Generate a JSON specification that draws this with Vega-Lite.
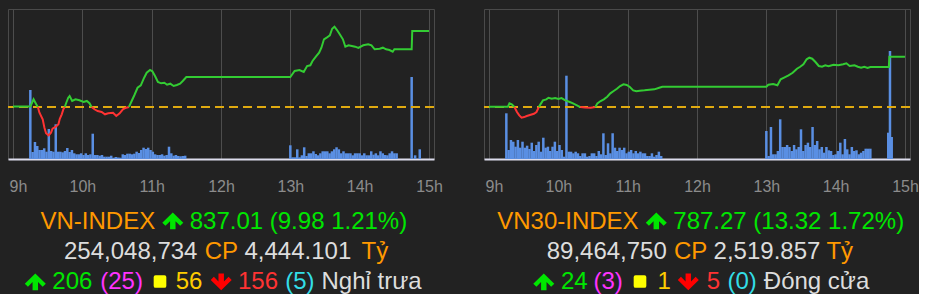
{
"$schema": "https://vega.github.io/schema/vega-lite/v6.json",
"background": "#222222",
"padding": {"left": 6, "top": 8, "right": 0, "bottom": 0},
"autosize": {"type": "pad"},
"bounds": "flush",
"columns": 2,
"spacing": {"row": 40, "column": 50},
"resolve": {"scale": {"color": "independent", "shape": "independent"}},
"config": {"view": {"stroke": "#4a4a4a"}},
"datasets": {
"lineL": [
{"t":0,"v":827.1,"seg":1,"dir":"up"},{"t":15,"v":827.1,"seg":1,"dir":"up"},{"t":17.8,"v":828.04,"seg":1,"dir":"up"},{"t":20.1,"v":827.38,"seg":1,"dir":"up"},{"t":21.5,"v":827.03,"seg":1,"dir":"up"},
{"t":21.5,"v":827.03,"seg":2,"dir":"down"},{"t":22.9,"v":826.28,"seg":2,"dir":"down"},{"t":25.7,"v":825.41,"seg":2,"dir":"down"},{"t":27.2,"v":824.31,"seg":2,"dir":"down"},{"t":28.6,"v":823.58,"seg":2,"dir":"down"},{"t":30.8,"v":823.31,"seg":2,"dir":"down"},{"t":32.9,"v":823.66,"seg":2,"dir":"down"},{"t":34.2,"v":824.18,"seg":2,"dir":"down"},{"t":37.1,"v":824.44,"seg":2,"dir":"down"},{"t":39.3,"v":824.76,"seg":2,"dir":"down"},{"t":40.5,"v":825.49,"seg":2,"dir":"down"},{"t":42.2,"v":826.07,"seg":2,"dir":"down"},{"t":43.6,"v":826.73,"seg":2,"dir":"down"},{"t":44.8,"v":827.03,"seg":2,"dir":"down"},
{"t":44.8,"v":827.03,"seg":3,"dir":"up"},{"t":46.1,"v":827.59,"seg":3,"dir":"up"},{"t":47.8,"v":828.25,"seg":3,"dir":"up"},{"t":49,"v":828.47,"seg":3,"dir":"up"},{"t":51.2,"v":827.82,"seg":3,"dir":"up"},{"t":54.1,"v":828.04,"seg":3,"dir":"up"},{"t":57.5,"v":827.91,"seg":3,"dir":"up"},{"t":61.1,"v":827.69,"seg":3,"dir":"up"},{"t":63.9,"v":827.82,"seg":3,"dir":"up"},{"t":66.2,"v":827.52,"seg":3,"dir":"up"},{"t":68,"v":827.03,"seg":3,"dir":"up"},
{"t":68,"v":827.03,"seg":4,"dir":"down"},{"t":70.5,"v":826.73,"seg":4,"dir":"down"},{"t":73.3,"v":826.5,"seg":4,"dir":"down"},{"t":76.7,"v":826.37,"seg":4,"dir":"down"},{"t":79.6,"v":826.07,"seg":4,"dir":"down"},{"t":82.4,"v":826.2,"seg":4,"dir":"down"},{"t":86.6,"v":826.28,"seg":4,"dir":"down"},{"t":89.4,"v":825.85,"seg":4,"dir":"down"},{"t":92.3,"v":826.2,"seg":4,"dir":"down"},{"t":95.1,"v":826.73,"seg":4,"dir":"down"},{"t":97.9,"v":826.94,"seg":4,"dir":"down"},{"t":100.3,"v":827.03,"seg":4,"dir":"down"},
{"t":100.3,"v":827.03,"seg":5,"dir":"up"},{"t":102.7,"v":827.82,"seg":5,"dir":"up"},{"t":105,"v":828.57,"seg":5,"dir":"up"},{"t":107.8,"v":829.56,"seg":5,"dir":"up"},{"t":110.6,"v":829.88,"seg":5,"dir":"up"},{"t":113.5,"v":830.88,"seg":5,"dir":"up"},{"t":115.7,"v":831.53,"seg":5,"dir":"up"},{"t":118.6,"v":831.89,"seg":5,"dir":"up"},{"t":120.6,"v":831.72,"seg":5,"dir":"up"},{"t":122.9,"v":831.1,"seg":5,"dir":"up"},{"t":125.4,"v":830.31,"seg":5,"dir":"up"},{"t":128.2,"v":830.14,"seg":5,"dir":"up"},{"t":131,"v":830.22,"seg":5,"dir":"up"},{"t":133.3,"v":829.96,"seg":5,"dir":"up"},{"t":136.1,"v":830.09,"seg":5,"dir":"up"},{"t":139,"v":829.79,"seg":5,"dir":"up"},{"t":141.8,"v":829.92,"seg":5,"dir":"up"},{"t":144.6,"v":830.09,"seg":5,"dir":"up"},{"t":146.9,"v":830.44,"seg":5,"dir":"up"},{"t":150,"v":830.97,"seg":5,"dir":"up"},{"t":240,"v":830.97,"seg":5,"dir":"up"},{"t":243.7,"v":831.76,"seg":5,"dir":"up"},{"t":247.9,"v":831.89,"seg":5,"dir":"up"},{"t":251.6,"v":831.63,"seg":5,"dir":"up"},{"t":254.5,"v":832.41,"seg":5,"dir":"up"},{"t":257.3,"v":832.51,"seg":5,"dir":"up"},{"t":259.2,"v":833.07,"seg":5,"dir":"up"},{"t":262.1,"v":833.63,"seg":5,"dir":"up"},{"t":264.9,"v":834.16,"seg":5,"dir":"up"},{"t":266.9,"v":834.82,"seg":5,"dir":"up"},{"t":269.1,"v":835.92,"seg":5,"dir":"up"},{"t":271.4,"v":836.13,"seg":5,"dir":"up"},{"t":274.2,"v":836.45,"seg":5,"dir":"up"},{"t":276.2,"v":837.31,"seg":5,"dir":"up"},{"t":278.2,"v":837.57,"seg":5,"dir":"up"},{"t":280.4,"v":837.14,"seg":5,"dir":"up"},{"t":283.3,"v":836.45,"seg":5,"dir":"up"},{"t":285.5,"v":835.92,"seg":5,"dir":"up"},{"t":287.6,"v":834.95,"seg":5,"dir":"up"},{"t":290.4,"v":835.13,"seg":5,"dir":"up"},{"t":293.2,"v":835.04,"seg":5,"dir":"up"},{"t":296.1,"v":834.95,"seg":5,"dir":"up"},{"t":298.9,"v":834.78,"seg":5,"dir":"up"},{"t":303.1,"v":835.13,"seg":5,"dir":"up"},{"t":307.4,"v":835.26,"seg":5,"dir":"up"},{"t":310.2,"v":835.13,"seg":5,"dir":"up"},{"t":313,"v":834.61,"seg":5,"dir":"up"},{"t":317.3,"v":834.69,"seg":5,"dir":"up"},{"t":320.1,"v":834.82,"seg":5,"dir":"up"},{"t":322.9,"v":834.61,"seg":5,"dir":"up"},{"t":325.8,"v":834.51,"seg":5,"dir":"up"},{"t":328.6,"v":834.29,"seg":5,"dir":"up"},{"t":330,"v":834.61,"seg":5,"dir":"up"},{"t":345,"v":834.61,"seg":5,"dir":"up"},{"t":345.5,"v":837.01,"seg":5,"dir":"up"},{"t":360,"v":837.01,"seg":5,"dir":"up"}
],
"lineR": [
{"t":0,"v":774.0,"seg":1,"dir":"up"},{"t":16.3,"v":774.0,"seg":1,"dir":"up"},{"t":17.7,"v":774.93,"seg":1,"dir":"up"},{"t":19.7,"v":774.66,"seg":1,"dir":"up"},{"t":22,"v":773.95,"seg":1,"dir":"up"},
{"t":22,"v":773.95,"seg":2,"dir":"down"},{"t":24.2,"v":772.63,"seg":2,"dir":"down"},{"t":26.2,"v":771.75,"seg":2,"dir":"down"},{"t":28.2,"v":771.12,"seg":2,"dir":"down"},{"t":30.4,"v":771.3,"seg":2,"dir":"down"},{"t":32.7,"v":771.57,"seg":2,"dir":"down"},{"t":36.1,"v":771.91,"seg":2,"dir":"down"},{"t":38.9,"v":772.18,"seg":2,"dir":"down"},{"t":41.1,"v":772.63,"seg":2,"dir":"down"},{"t":43.1,"v":773.95,"seg":2,"dir":"down"},
{"t":43.1,"v":773.95,"seg":3,"dir":"up"},{"t":44.5,"v":774.66,"seg":3,"dir":"up"},{"t":46.7,"v":775.72,"seg":3,"dir":"up"},{"t":49.6,"v":775.99,"seg":3,"dir":"up"},{"t":51.5,"v":776.41,"seg":3,"dir":"up"},{"t":54.3,"v":776.15,"seg":3,"dir":"up"},{"t":57.2,"v":776.33,"seg":3,"dir":"up"},{"t":60,"v":776.07,"seg":3,"dir":"up"},{"t":62.8,"v":776.33,"seg":3,"dir":"up"},{"t":65.7,"v":775.8,"seg":3,"dir":"up"},{"t":69.3,"v":775.35,"seg":3,"dir":"up"},{"t":72.7,"v":774.93,"seg":3,"dir":"up"},{"t":76.1,"v":774.4,"seg":3,"dir":"up"},{"t":79,"v":773.95,"seg":3,"dir":"up"},
{"t":79,"v":773.95,"seg":4,"dir":"down"},{"t":83,"v":773.8,"seg":4,"dir":"down"},{"t":88,"v":773.75,"seg":4,"dir":"down"},{"t":92,"v":773.95,"seg":4,"dir":"down"},
{"t":92,"v":773.95,"seg":5,"dir":"up"},{"t":93.8,"v":774.93,"seg":5,"dir":"up"},{"t":96.6,"v":775.54,"seg":5,"dir":"up"},{"t":99.4,"v":775.99,"seg":5,"dir":"up"},{"t":102.3,"v":776.68,"seg":5,"dir":"up"},{"t":105,"v":777.58,"seg":5,"dir":"up"},{"t":107.9,"v":778.19,"seg":5,"dir":"up"},{"t":110.7,"v":778.8,"seg":5,"dir":"up"},{"t":113.5,"v":779.51,"seg":5,"dir":"up"},{"t":116.4,"v":779.96,"seg":5,"dir":"up"},{"t":119.2,"v":779.78,"seg":5,"dir":"up"},{"t":121.9,"v":779.25,"seg":5,"dir":"up"},{"t":124.8,"v":778.37,"seg":5,"dir":"up"},{"t":127.6,"v":778.11,"seg":5,"dir":"up"},{"t":130.4,"v":778.27,"seg":5,"dir":"up"},{"t":134.6,"v":778.37,"seg":5,"dir":"up"},{"t":138.9,"v":778.53,"seg":5,"dir":"up"},{"t":143.1,"v":778.64,"seg":5,"dir":"up"},{"t":147.3,"v":779.06,"seg":5,"dir":"up"},{"t":150,"v":779.33,"seg":5,"dir":"up"},{"t":240,"v":779.33,"seg":5,"dir":"up"},{"t":241.7,"v":779.86,"seg":5,"dir":"up"},{"t":245.9,"v":780.04,"seg":5,"dir":"up"},{"t":249.6,"v":779.7,"seg":5,"dir":"up"},{"t":252.4,"v":781.29,"seg":5,"dir":"up"},{"t":255.8,"v":781.82,"seg":5,"dir":"up"},{"t":259.2,"v":782.35,"seg":5,"dir":"up"},{"t":262.8,"v":783.03,"seg":5,"dir":"up"},{"t":266.5,"v":784.09,"seg":5,"dir":"up"},{"t":269.3,"v":784.62,"seg":5,"dir":"up"},{"t":272.1,"v":785.26,"seg":5,"dir":"up"},{"t":274.9,"v":786.58,"seg":5,"dir":"up"},{"t":277.2,"v":787.01,"seg":5,"dir":"up"},{"t":279.7,"v":786.74,"seg":5,"dir":"up"},{"t":282.5,"v":785.87,"seg":5,"dir":"up"},{"t":285.4,"v":784.81,"seg":5,"dir":"up"},{"t":288.2,"v":784.62,"seg":5,"dir":"up"},{"t":291,"v":784.99,"seg":5,"dir":"up"},{"t":293.8,"v":784.73,"seg":5,"dir":"up"},{"t":298.1,"v":785.15,"seg":5,"dir":"up"},{"t":302.3,"v":784.99,"seg":5,"dir":"up"},{"t":306.5,"v":785.26,"seg":5,"dir":"up"},{"t":309.3,"v":785.52,"seg":5,"dir":"up"},{"t":312.1,"v":784.81,"seg":5,"dir":"up"},{"t":316.3,"v":784.99,"seg":5,"dir":"up"},{"t":319.2,"v":784.62,"seg":5,"dir":"up"},{"t":322,"v":784.36,"seg":5,"dir":"up"},{"t":324.8,"v":784.62,"seg":5,"dir":"up"},{"t":327.6,"v":784.28,"seg":5,"dir":"up"},{"t":330,"v":784.54,"seg":5,"dir":"up"},{"t":346,"v":784.54,"seg":5,"dir":"up"},{"t":346.5,"v":787.27,"seg":5,"dir":"up"},{"t":360,"v":787.27,"seg":5,"dir":"up"}
],
"volL": [
{"t":15,"v":69},{"t":17,"v":7},{"t":19,"v":17},{"t":21,"v":13},{"t":23,"v":9},{"t":25,"v":9},{"t":27,"v":10.7},{"t":29,"v":7.3},{"t":31,"v":30},{"t":33,"v":8},{"t":35,"v":7.3},{"t":37,"v":34.7},{"t":39,"v":7.3},{"t":41,"v":7.3},{"t":43,"v":6.7},{"t":45,"v":8},{"t":47,"v":11},{"t":49,"v":7},{"t":51,"v":9},{"t":53,"v":5.7},{"t":55,"v":4.7},{"t":57,"v":4.7},{"t":59,"v":5.7},{"t":61,"v":4},{"t":63,"v":5.7},{"t":65,"v":4},{"t":67,"v":4.7},{"t":69,"v":25.3},{"t":71,"v":4},{"t":73,"v":4},{"t":75,"v":3.3},{"t":77,"v":4},{"t":79,"v":2.3},{"t":81,"v":2.3},{"t":83,"v":2.3},{"t":85,"v":3.3},{"t":87,"v":1.3},{"t":89,"v":2},{"t":91,"v":1.5},{"t":93,"v":1.3},{"t":95,"v":4.7},{"t":97,"v":4},{"t":99,"v":5.3},{"t":101,"v":5.3},{"t":103,"v":4.7},{"t":105,"v":5.3},{"t":107,"v":7.3},{"t":109,"v":6},{"t":111,"v":9},{"t":113,"v":11.3},{"t":115,"v":10},{"t":117,"v":11.3},{"t":119,"v":9},{"t":121,"v":7.3},{"t":123,"v":4.7},{"t":125,"v":4},{"t":127,"v":4},{"t":129,"v":4.7},{"t":131,"v":3.3},{"t":133,"v":4},{"t":135,"v":12.3},{"t":137,"v":5.7},{"t":139,"v":3.3},{"t":141,"v":4},{"t":143,"v":3},{"t":145,"v":2.7},{"t":147,"v":3},{"t":149,"v":3.3},
{"t":240,"v":13.7},{"t":242,"v":1.7},{"t":244,"v":1.7},{"t":246,"v":9.7},{"t":248,"v":1.7},{"t":250,"v":3.7},{"t":252,"v":11.7},{"t":254,"v":3},{"t":256,"v":5.7},{"t":258,"v":5.7},{"t":260,"v":7.7},{"t":262,"v":5},{"t":264,"v":3.7},{"t":266,"v":5.7},{"t":268,"v":7.7},{"t":270,"v":7.7},{"t":272,"v":7.7},{"t":274,"v":5.7},{"t":276,"v":7.7},{"t":278,"v":9.7},{"t":280,"v":11.7},{"t":282,"v":9.7},{"t":284,"v":5.7},{"t":286,"v":7.7},{"t":288,"v":5.7},{"t":290,"v":5.7},{"t":292,"v":5.7},{"t":294,"v":3.7},{"t":296,"v":5.7},{"t":298,"v":5.7},{"t":300,"v":5.7},{"t":302,"v":3.7},{"t":304,"v":5.7},{"t":306,"v":3.7},{"t":308,"v":3.7},{"t":310,"v":7.7},{"t":312,"v":4.3},{"t":314,"v":5.7},{"t":316,"v":3.7},{"t":318,"v":7.7},{"t":320,"v":5.7},{"t":322,"v":4},{"t":324,"v":3.7},{"t":326,"v":5.7},{"t":328,"v":7.7},{"t":330,"v":5.7},{"t":332,"v":5.7},
{"t":345,"v":82},{"t":348,"v":3.7},{"t":352,"v":9.7}
],
"volR": [
{"t":15,"v":45.7},{"t":17,"v":9},{"t":19,"v":19},{"t":21,"v":17.3},{"t":23,"v":12.3},{"t":25,"v":19},{"t":27,"v":11.3},{"t":29,"v":17.3},{"t":31,"v":11.3},{"t":33,"v":13.3},{"t":35,"v":10},{"t":37,"v":16.3},{"t":39,"v":8},{"t":41,"v":14},{"t":43,"v":17.3},{"t":45,"v":7.3},{"t":47,"v":21.3},{"t":49,"v":11.3},{"t":51,"v":12.3},{"t":53,"v":8},{"t":55,"v":12.3},{"t":57,"v":17.3},{"t":59,"v":8},{"t":61,"v":14},{"t":63,"v":9},{"t":65,"v":2.3},{"t":67,"v":83.3},{"t":69,"v":7.3},{"t":71,"v":7.3},{"t":73,"v":5.7},{"t":75,"v":7.3},{"t":77,"v":5.7},{"t":79,"v":3},{"t":81,"v":5.7},{"t":83,"v":5.7},{"t":85,"v":2.3},{"t":87,"v":3},{"t":89,"v":5.7},{"t":91,"v":5.7},{"t":93,"v":3},{"t":95,"v":8},{"t":97,"v":4.7},{"t":99,"v":25.7},{"t":101,"v":4},{"t":103,"v":15.7},{"t":105,"v":5.7},{"t":107,"v":25.7},{"t":109,"v":11.3},{"t":111,"v":8},{"t":113,"v":11.3},{"t":115,"v":9},{"t":117,"v":11.3},{"t":119,"v":5.7},{"t":121,"v":7.3},{"t":123,"v":9},{"t":125,"v":5.7},{"t":127,"v":8},{"t":129,"v":5.7},{"t":131,"v":7.3},{"t":133,"v":5.7},{"t":135,"v":5.7},{"t":137,"v":3},{"t":139,"v":3},{"t":141,"v":5.7},{"t":143,"v":2.3},{"t":145,"v":4},{"t":147,"v":7.3},{"t":149,"v":3},
{"t":240,"v":28},{"t":242,"v":3},{"t":244,"v":32},{"t":246,"v":4.7},{"t":248,"v":4.7},{"t":250,"v":8},{"t":252,"v":39.7},{"t":254,"v":12},{"t":256,"v":12},{"t":258,"v":14},{"t":260,"v":12},{"t":262,"v":8},{"t":264,"v":14},{"t":266,"v":9.7},{"t":268,"v":12},{"t":270,"v":29.7},{"t":272,"v":8},{"t":274,"v":14},{"t":276,"v":16.3},{"t":278,"v":12},{"t":280,"v":32},{"t":282,"v":14},{"t":284,"v":18},{"t":286,"v":9.7},{"t":288,"v":12},{"t":290,"v":6.3},{"t":292,"v":12},{"t":294,"v":8.7},{"t":296,"v":8},{"t":298,"v":4},{"t":300,"v":4.7},{"t":302,"v":8},{"t":304,"v":16.3},{"t":306,"v":4.7},{"t":308,"v":20},{"t":310,"v":9.7},{"t":312,"v":4.7},{"t":314,"v":12},{"t":316,"v":8},{"t":318,"v":8.7},{"t":320,"v":4.7},{"t":322,"v":6.3},{"t":324,"v":8},{"t":326,"v":10.3},{"t":328,"v":10.3},{"t":330,"v":10.3},
{"t":345.5,"v":26.3},{"t":347,"v":108},{"t":348.5,"v":22}
],
"txtL": [
{"line":1,"x":32.5,"s":"VN-INDEX","k":"name"},
{"line":1,"x":181.7,"s":"837.01 (9.98 1.21%)","k":"up"},
{"line":2,"x":56,"s":"254,048,734","k":"val"},
{"line":2,"x":196.7,"s":"CP","k":"name"},
{"line":2,"x":236.5,"s":"4,444.101","k":"val"},
{"line":2,"x":353.5,"s":"Tỷ","k":"name"},
{"line":3,"x":44.3,"s":"206","k":"up"},
{"line":3,"x":92.2,"s":"(25)","k":"ceil"},
{"line":3,"x":167.7,"s":"56","k":"flat"},
{"line":3,"x":230,"s":"156","k":"down"},
{"line":3,"x":277.2,"s":"(5)","k":"floor"},
{"line":3,"x":313.5,"s":"Nghỉ trưa","k":"val"}
],
"symL": [
{"line":0.73,"x":164.8,"k":"up"},
{"line":2.76,"x":27.3,"k":"up"},
{"line":2.76,"x":213.2,"k":"downsym"},
{"line":2.75,"x":152,"k":"flatsym"}
],
"txtR": [
{"line":1,"x":13.2,"s":"VN30-INDEX","k":"name"},
{"line":1,"x":189.3,"s":"787.27 (13.32 1.72%)","k":"up"},
{"line":2,"x":62.7,"s":"89,464,750","k":"val"},
{"line":2,"x":190,"s":"CP","k":"name"},
{"line":2,"x":229.6,"s":"2,519.857","k":"val"},
{"line":2,"x":342.4,"s":"Tỷ","k":"name"},
{"line":3,"x":77,"s":"24","k":"up"},
{"line":3,"x":109.5,"s":"(3)","k":"ceil"},
{"line":3,"x":173.4,"s":"1","k":"flat"},
{"line":3,"x":222.7,"s":"5","k":"down"},
{"line":3,"x":243.5,"s":"(0)","k":"floor"},
{"line":3,"x":279.8,"s":"Đóng cửa","k":"val"}
],
"symR": [
{"line":0.73,"x":172.3,"k":"up"},
{"line":2.76,"x":59.8,"k":"up"},
{"line":2.76,"x":204.3,"k":"downsym"},
{"line":2.75,"x":156,"k":"flatsym"}
]
},
"concat": [
{
"width": 426, "height": 150,
"resolve": {"scale": {"y": "independent"}},
"layer": [
{"data": {"name": "volL"}, "mark": {"type": "bar", "width": 2.5, "color": "#5a8fe3"},
 "encoding": {
  "x": {"field": "t", "type": "quantitative", "scale": {"domain": [0, 360], "nice": false, "zero": false},
   "axis": {"values": [0, 60, 120, 180, 240, 300, 360], "labelExpr": "(9 + datum.value / 60) + 'h'", "labelAlign": {"condition": {"test": "datum.value == 0", "value": "left"}, "value": "center"}, "labelOffset": {"condition": {"test": "datum.value == 0", "value": -4}, "value": 0}, "grid": true, "gridColor": "#4d4d4d", "ticks": false, "tickSize": 0, "labelPadding": 32, "labelBaseline": "alphabetic", "domainColor": "#dcdcec", "domainWidth": 2, "title": null, "labelColor": "#8c8c8c", "labelFontSize": 16, "labelFont": "Liberation Sans", "labelOverlap": false, "labelFlush": false, "labelBound": false}},
  "y": {"field": "v", "type": "quantitative", "scale": {"domain": [0, 150]}, "axis": null}}},
{"data": {"values": [{"ref": 827.03}]}, "mark": {"type": "rule", "color": "#e0aa10", "strokeDash": [9, 5], "strokeWidth": 2},
 "encoding": {"y": {"field": "ref", "type": "quantitative", "scale": {"domain": [820.2, 839.9], "nice": false, "zero": false}, "axis": null}}},
{"data": {"name": "lineL"}, "mark": {"type": "line", "strokeWidth": 2},
 "encoding": {
  "x": {"field": "t", "type": "quantitative"},
  "y": {"field": "v", "type": "quantitative", "scale": {"domain": [820.2, 839.9], "nice": false, "zero": false}, "axis": null},
  "color": {"field": "dir", "type": "nominal", "scale": {"domain": ["up", "down"], "range": ["#33cc33", "#ff3333"]}, "legend": null},
  "detail": {"field": "seg", "type": "nominal"}}}
]
},
{
"width": 426, "height": 150,
"resolve": {"scale": {"y": "independent"}},
"layer": [
{"data": {"name": "volR"}, "mark": {"type": "bar", "width": 2.5, "color": "#5a8fe3"},
 "encoding": {
  "x": {"field": "t", "type": "quantitative", "scale": {"domain": [0, 360], "nice": false, "zero": false},
   "axis": {"values": [0, 60, 120, 180, 240, 300, 360], "labelExpr": "(9 + datum.value / 60) + 'h'", "labelAlign": {"condition": {"test": "datum.value == 0", "value": "left"}, "value": "center"}, "labelOffset": {"condition": {"test": "datum.value == 0", "value": -4}, "value": 0}, "grid": true, "gridColor": "#4d4d4d", "ticks": false, "tickSize": 0, "labelPadding": 32, "labelBaseline": "alphabetic", "domainColor": "#dcdcec", "domainWidth": 2, "title": null, "labelColor": "#8c8c8c", "labelFontSize": 16, "labelFont": "Liberation Sans", "labelOverlap": false, "labelFlush": false, "labelBound": false}},
  "y": {"field": "v", "type": "quantitative", "scale": {"domain": [0, 150]}, "axis": null}}},
{"data": {"values": [{"ref": 773.95}]}, "mark": {"type": "rule", "color": "#e0aa10", "strokeDash": [9, 5], "strokeWidth": 2},
 "encoding": {"y": {"field": "ref", "type": "quantitative", "scale": {"domain": [760.2, 799.9], "nice": false, "zero": false}, "axis": null}}},
{"data": {"name": "lineR"}, "mark": {"type": "line", "strokeWidth": 2},
 "encoding": {
  "x": {"field": "t", "type": "quantitative"},
  "y": {"field": "v", "type": "quantitative", "scale": {"domain": [760.2, 799.9], "nice": false, "zero": false}, "axis": null},
  "color": {"field": "dir", "type": "nominal", "scale": {"domain": ["up", "down"], "range": ["#33cc33", "#ff3333"]}, "legend": null},
  "detail": {"field": "seg", "type": "nominal"}}}
]
},
{
"width": 426, "height": 90, "view": {"stroke": null},
"layer": [
{"data": {"name": "txtL"}, "mark": {"type": "text", "align": "left", "baseline": "alphabetic", "font": "Liberation Sans", "fontSize": 24},
 "encoding": {
  "x": {"field": "x", "type": "quantitative", "scale": {"domain": [0, 426], "nice": false, "zero": false}, "axis": null},
  "y": {"field": "line", "type": "quantitative", "scale": {"domain": [0, 3], "reverse": true, "nice": false, "zero": false}, "axis": null},
  "text": {"field": "s", "type": "nominal"},
  "color": {"field": "k", "type": "nominal", "scale": {"domain": ["name", "up", "val", "ceil", "flat", "down", "floor", "downsym", "flatsym"], "range": ["#ff9900", "#00e600", "#dddddd", "#ff33ff", "#ffcc00", "#ff3333", "#33dde6", "#ff0000", "#ffff00"]}, "legend": null}}},
{"data": {"name": "symL"}, "transform": [{"filter": "datum.k != 'flatsym'"}], "mark": {"type": "point", "filled": true, "opacity": 1, "size": 441, "strokeWidth": 0},
 "encoding": {
  "x": {"field": "x", "type": "quantitative"},
  "y": {"field": "line", "type": "quantitative"},
  "shape": {"field": "k", "type": "nominal", "scale": {"domain": ["up", "downsym"], "range": ["M0,-0.8L1,0.18L0.7,0.47L0.26,0.03L0.26,0.8L-0.26,0.8L-0.26,0.03L-0.7,0.47L-1,0.18Z", "M0,0.8L1,-0.18L0.7,-0.47L0.26,-0.03L0.26,-0.8L-0.26,-0.8L-0.26,-0.03L-0.7,-0.47L-1,-0.18Z"]}, "legend": null},
  "color": {"field": "k", "type": "nominal", "legend": null}}},
{"data": {"name": "symL"}, "transform": [{"filter": "datum.k == 'flatsym'"}], "mark": {"type": "point", "filled": true, "opacity": 1, "size": 160, "strokeWidth": 0, "shape": "M-0.7,-1L0.7,-1Q1,-1 1,-0.7L1,0.7Q1,1 0.7,1L-0.7,1Q-1,1 -1,0.7L-1,-0.7Q-1,-1 -0.7,-1Z"},
 "encoding": {
  "x": {"field": "x", "type": "quantitative"},
  "y": {"field": "line", "type": "quantitative"},
  "color": {"field": "k", "type": "nominal", "legend": null}}}
]
},
{
"width": 426, "height": 90, "view": {"stroke": null},
"layer": [
{"data": {"name": "txtR"}, "mark": {"type": "text", "align": "left", "baseline": "alphabetic", "font": "Liberation Sans", "fontSize": 24},
 "encoding": {
  "x": {"field": "x", "type": "quantitative", "scale": {"domain": [0, 426], "nice": false, "zero": false}, "axis": null},
  "y": {"field": "line", "type": "quantitative", "scale": {"domain": [0, 3], "reverse": true, "nice": false, "zero": false}, "axis": null},
  "text": {"field": "s", "type": "nominal"},
  "color": {"field": "k", "type": "nominal", "scale": {"domain": ["name", "up", "val", "ceil", "flat", "down", "floor", "downsym", "flatsym"], "range": ["#ff9900", "#00e600", "#dddddd", "#ff33ff", "#ffcc00", "#ff3333", "#33dde6", "#ff0000", "#ffff00"]}, "legend": null}}},
{"data": {"name": "symR"}, "transform": [{"filter": "datum.k != 'flatsym'"}], "mark": {"type": "point", "filled": true, "opacity": 1, "size": 441, "strokeWidth": 0},
 "encoding": {
  "x": {"field": "x", "type": "quantitative"},
  "y": {"field": "line", "type": "quantitative"},
  "shape": {"field": "k", "type": "nominal", "scale": {"domain": ["up", "downsym"], "range": ["M0,-0.8L1,0.18L0.7,0.47L0.26,0.03L0.26,0.8L-0.26,0.8L-0.26,0.03L-0.7,0.47L-1,0.18Z", "M0,0.8L1,-0.18L0.7,-0.47L0.26,-0.03L0.26,-0.8L-0.26,-0.8L-0.26,-0.03L-0.7,-0.47L-1,-0.18Z"]}, "legend": null},
  "color": {"field": "k", "type": "nominal", "legend": null}}},
{"data": {"name": "symR"}, "transform": [{"filter": "datum.k == 'flatsym'"}], "mark": {"type": "point", "filled": true, "opacity": 1, "size": 160, "strokeWidth": 0, "shape": "M-0.7,-1L0.7,-1Q1,-1 1,-0.7L1,0.7Q1,1 0.7,1L-0.7,1Q-1,1 -1,0.7L-1,-0.7Q-1,-1 -0.7,-1Z"},
 "encoding": {
  "x": {"field": "x", "type": "quantitative"},
  "y": {"field": "line", "type": "quantitative"},
  "color": {"field": "k", "type": "nominal", "legend": null}}}
]
}
]
}
